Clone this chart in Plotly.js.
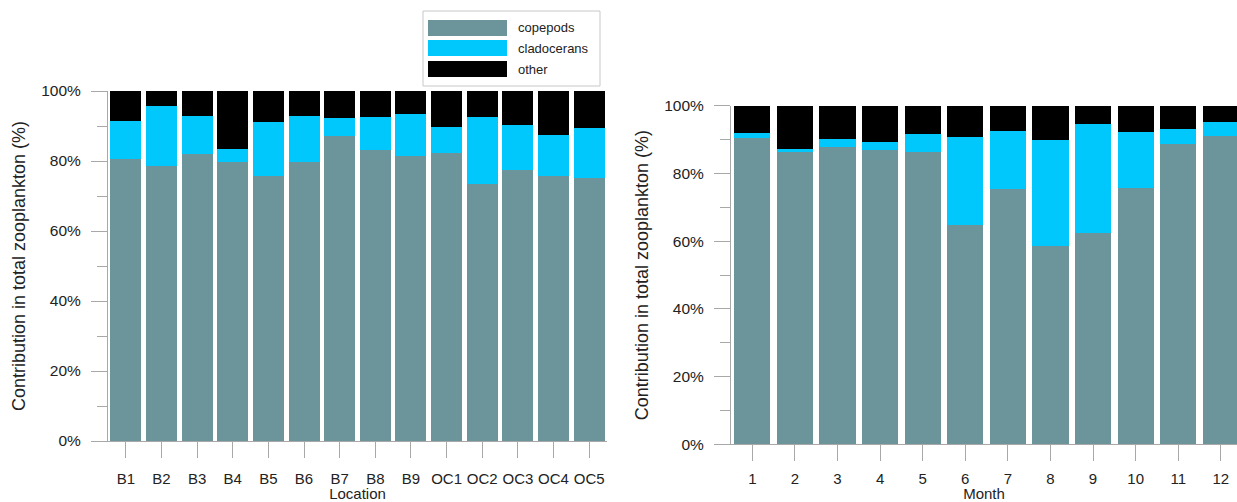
<!DOCTYPE html>
<html>
<head>
<meta charset="utf-8">
<script src="https://cdn.plot.ly/plotly-3.0.1.min.js"></script>
<style>
html,body{margin:0;padding:0;background:#fff;overflow:hidden;}
#chart{width:1237px;height:502px;}
</style>
</head>
<body>
<div id="chart"></div>
<script>
// ---- data ----
const seriesNames = ['copepods', 'cladocerans', 'other'];
const locations = ['B1','B2','B3','B4','B5','B6','B7','B8','B9','OC1','OC2','OC3','OC4','OC5'];
const locCopepods    = [80.6, 78.5, 82.1, 79.7, 75.6, 79.7, 87.1, 83.1, 81.3, 82.2, 73.5, 77.4, 75.6, 75.2];
const locCladocerans = [10.9, 17.2, 10.8, 3.8, 15.6, 13.2, 5.3, 9.5, 12.0, 7.6, 19.1, 12.9, 11.8, 14.1];
const locOther       = [8.5, 4.3, 7.1, 16.5, 8.8, 7.1, 7.6, 7.4, 6.7, 10.2, 7.4, 9.7, 12.6, 10.7];

const months = [1,2,3,4,5,6,7,8,9,10,11,12];
const monCopepods    = [90.4, 86.5, 87.9, 86.8, 86.3, 64.9, 75.3, 58.6, 62.4, 75.7, 88.7, 91.1];
const monCladocerans = [1.5, 0.8, 2.4, 2.6, 5.5, 25.9, 17.3, 31.3, 32.2, 16.6, 4.4, 4.1];
const monOther       = [8.1, 12.7, 9.7, 10.6, 8.2, 9.2, 7.4, 10.1, 5.4, 7.7, 6.9, 4.8];

const yTickVals = [0, 20, 40, 60, 80, 100];
const yTickText = ['0%', '20%', '40%', '60%', '80%', '100%'];

// ---- style ----
const colors = ['#6b959b', '#00c8fc', '#000000'];
const axisGray = '#a8a8a8';
const txt = '#222222';
const fontFam = 'Liberation Sans, Arial, sans-serif';

const locSeries = [locCopepods, locCladocerans, locOther];
const monSeries = [monCopepods, monCladocerans, monOther];

const traces = [];
seriesNames.forEach((n, i) => {
  traces.push({
    type: 'bar', name: n, x: locations, y: locSeries[i],
    xaxis: 'x', yaxis: 'y', width: 0.87,
    marker: {color: colors[i], line: {width: 0}},
    showlegend: false, hoverinfo: 'x+y+name'
  });
});
seriesNames.forEach((n, i) => {
  traces.push({
    type: 'bar', name: n, x: months, y: monSeries[i],
    xaxis: 'x2', yaxis: 'y2', width: 0.85,
    marker: {color: colors[i], line: {width: 0}},
    showlegend: false, hoverinfo: 'x+y+name'
  });
});

function yAxis(domain, anchor) {
  return {
    domain: domain, anchor: anchor, range: [0, 100],
    tickmode: 'array', tickvals: yTickVals, ticktext: yTickText,
    ticks: 'outside', ticklen: 16, tickcolor: axisGray, tickwidth: 1,
    minor: {dtick: 10, tick0: 0, ticks: 'outside', ticklen: 10, tickcolor: axisGray, tickwidth: 1, showgrid: false},
    showline: true, linecolor: axisGray, linewidth: 1,
    showgrid: false, zeroline: false,
    tickfont: {family: fontFam, size: 15.5, color: txt},
    ticklabelstandoff: 7,
    title: {text: 'Contribution in total zooplankton (%)', font: {family: fontFam, size: 18, color: txt}, standoff: 10}
  };
}
function xAxis(domain, anchor, range, title, standoff) {
  return {
    domain: domain, anchor: anchor, range: range,
    ticks: 'outside', ticklen: 16, tickcolor: axisGray, tickwidth: 1,
    showline: true, linecolor: axisGray, linewidth: 1,
    showgrid: false, zeroline: false,
    tickfont: {family: fontFam, size: 15, color: txt},
    ticklabelstandoff: standoff,
    title: {text: title, font: {family: fontFam, size: 15, color: txt}, standoff: 0}
  };
}

const W = 1237, H = 502;
const layout = {
  width: W, height: H,
  margin: {l: 0, r: 0, t: 0, b: 0},
  paper_bgcolor: '#fff', plot_bgcolor: '#fff',
  barmode: 'stack',
  showlegend: false,
  xaxis: Object.assign(xAxis([108/W, 607/W], 'y', [-0.5, 13.5], 'Location', 8), {type: 'category'}),
  yaxis: yAxis([(H-441)/H, (H-91)/H], 'x'),
  xaxis2: Object.assign(xAxis([731/W, 1], 'y2', [0.5, 12.38], 'Month', 5), {tickvals: months}),
  yaxis2: yAxis([(H-444.3)/H, (H-105.8)/H], 'x2'),
  shapes: [], annotations: []
};

// legend box (drawn as shapes + text)
const lgX0 = 423, lgX1 = 600, lgY0 = 11, lgY1 = 86;
layout.shapes.push({type: 'rect', xref: 'paper', yref: 'paper',
  x0: lgX0/W, x1: lgX1/W, y0: 1 - lgY1/H, y1: 1 - lgY0/H,
  line: {color: '#c8c8c8', width: 1}, fillcolor: '#fff', layer: 'above'});
const rowTops = [20, 40, 61];
seriesNames.forEach((n, i) => {
  const t = rowTops[i], b = t + 16;
  layout.shapes.push({type: 'rect', xref: 'paper', yref: 'paper',
    x0: 428/W, x1: 507/W, y0: 1 - b/H, y1: 1 - t/H,
    line: {width: 0}, fillcolor: colors[i], layer: 'above'});
  layout.annotations.push({xref: 'paper', yref: 'paper', x: 516/W, y: 1 - (t + 8)/H,
    xanchor: 'left', yanchor: 'middle', showarrow: false, text: n,
    font: {family: fontFam, size: 13, color: txt}});
});

Plotly.newPlot('chart', traces, layout, {displayModeBar: false, staticPlot: true});
</script>
</body>
</html>
